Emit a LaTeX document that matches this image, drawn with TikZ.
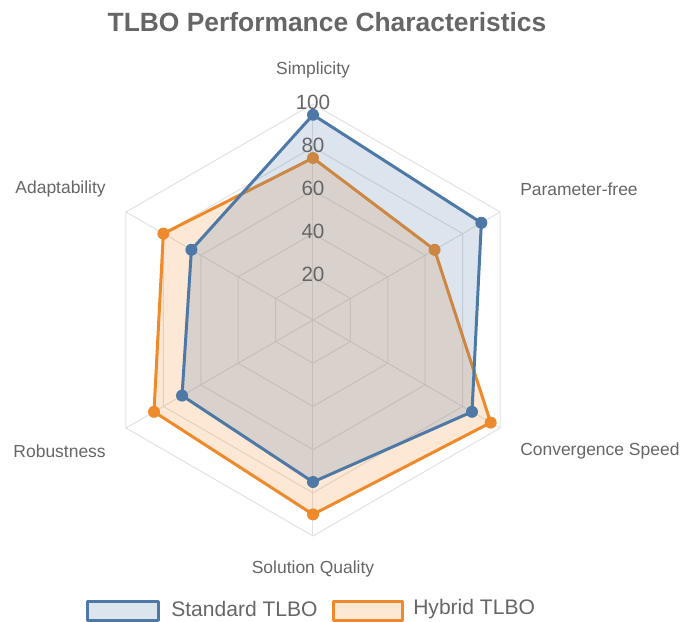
\documentclass[tikz,border=0pt]{standalone}
\usepackage{fontspec}
\setmainfont{Liberation Sans}
\usetikzlibrary{calc}
\definecolor{stdblue}{HTML}{4E79A7}
\definecolor{hyborange}{HTML}{EE8A2B}
\definecolor{txtgray}{HTML}{666666}
\definecolor{gridgray}{HTML}{E2E2E2}
\tikzset{
  gridline/.style={draw=gridgray, line width=0.75pt},
  axislabel/.style={text=txtgray, font=\fontsize{13.1}{15}\selectfont, inner sep=0pt},
  ticklabel/.style={text=txtgray, font=\fontsize{15.5}{18}\selectfont, inner sep=0pt},
  legendtext/.style={text=txtgray, font=\fontsize{15.8}{18}\selectfont, inner sep=0pt, anchor=west},
  stdarea/.style={draw=stdblue, line width=2.25pt, line join=round, fill=stdblue, fill opacity=0.2},
  hybarea/.style={draw=hyborange, line width=2.25pt, line join=round, fill=hyborange, fill opacity=0.2},
}

\begin{document}
\begin{tikzpicture}[x=0.75pt,y=0.75pt]
\useasboundingbox (-313,-302) rectangle (370,320);
\node[text=txtgray, font=\bfseries\fontsize{19.8}{22}\selectfont] (title) at (14,298) {TLBO Performance Characteristics};
% web
\foreach \r in {1,...,5}{
	\draw[gridline] (90:\r*43.2) -- (30:\r*43.2) -- (-30:\r*43.2) -- (-90:\r*43.2) -- (-150:\r*43.2) -- (150:\r*43.2) -- cycle;
	}
\foreach \a in {90,30,-30,-90,-150,150}{
	\draw[gridline] (0,0) -- (\a:216);
	}
% hybrid TLBO
\draw[hybarea] (90:75*2.16) -- (30:65*2.16) -- (-30:95*2.16) -- (-90:90*2.16) -- (-150:85*2.16) -- (150:80*2.16) -- cycle;
\foreach \a/\v in {90/75,30/65,-30/95,-90/90,-150/85,150/80}{
	\fill[hyborange] (\a:\v*2.16) circle[radius=4.5pt];
	}
% standard TLBO
\draw[stdarea] (90:95*2.16) -- (30:90*2.16) -- (-30:85*2.16) -- (-90:75*2.16) -- (-150:70*2.16) -- (150:65*2.16) -- cycle;
\foreach \a/\v in {90/95,30/90,-30/85,-90/75,-150/70,150/65}{
	\fill[stdblue] (\a:\v*2.16) circle[radius=4.5pt];
	}
% scale
\foreach \v in {20,40,60,80,100}{
	\node[ticklabel] (tick\v) at (0,\v*2.16+2) {\v};
	}
% axes
\node[axislabel] (simp) at (0,250) {Simplicity};
\node[axislabel, anchor=west] (param) at (207,131) {Parameter-free};
\node[axislabel, anchor=west] (conv) at (207,-131) {Convergence Speed};
\node[axislabel] (qual) at (0,-249) {Solution Quality};
\node[axislabel, anchor=east] (robust) at (-207,-131) {Robustness};
\node[axislabel, anchor=east] (adapt) at (-207,131) {Adaptability};
% legend
\draw[stdarea] (-225,-281) rectangle (-154,-300);
\node[legendtext] (stdkey) at (-142,-289) {Standard TLBO};
\draw[hybarea] (21,-281) rectangle (90,-300);
\node[legendtext] (hybkey) at (100,-289) {Hybrid TLBO};
\end{tikzpicture}
\end{document}
